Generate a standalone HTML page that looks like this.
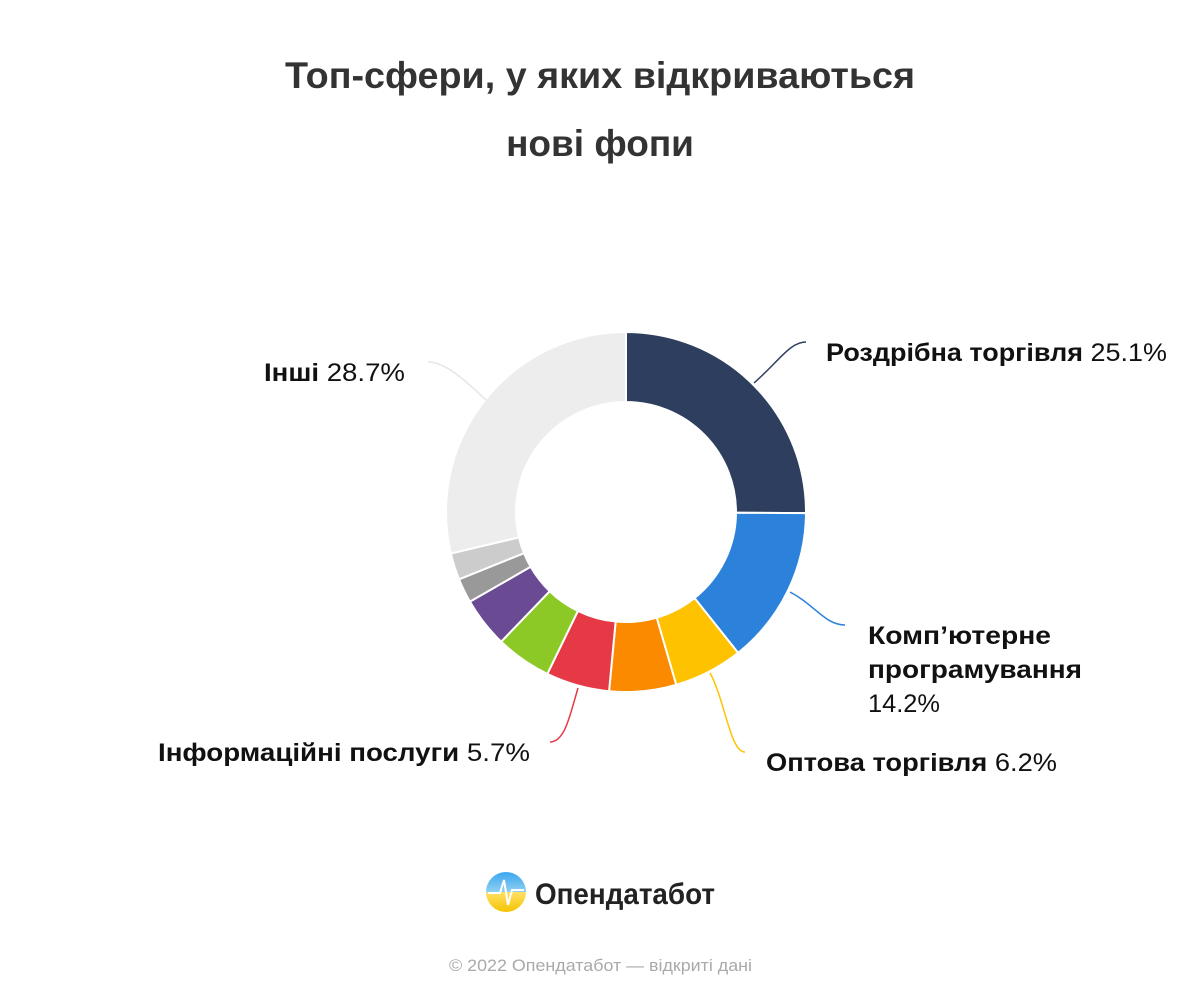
<!DOCTYPE html>
<html><head><meta charset="utf-8"><style>
body{margin:0;background:#fff;width:1200px;height:1000px;overflow:hidden;font-family:"Liberation Sans","DejaVu Sans",sans-serif}
</style></head><body>
<svg width="1200" height="1000" xmlns="http://www.w3.org/2000/svg" font-family="Liberation Sans, DejaVu Sans, sans-serif">
<text x="285" y="88" textLength="630" lengthAdjust="spacingAndGlyphs" font-size="37" font-weight="bold" fill="#333">Топ-сфери, у яких відкриваються</text>
<text x="600" y="156" text-anchor="middle" font-size="37" font-weight="bold" fill="#333">нові фопи</text>
<g id="donut"></g>
<g fill="none" stroke-width="1.5">
<path d="M754 383 C780 360,790 342,806 342" stroke="#2e3e5e"/>
<path d="M790 592 C815 605,825 625,845 625" stroke="#2c82da"/>
<path d="M710 673 C725 700,730 752,745 752" stroke="#ffc200"/>
<path d="M578 688 C570 715,565 742,550 742" stroke="#e63946"/>
<path d="M486 400 C465 380,445 362,428 362" stroke="#e6e6e6"/>
</g>
<g font-size="25" fill="#111" lengthAdjust="spacingAndGlyphs">
<text x="826" y="361" textLength="341" lengthAdjust="spacingAndGlyphs"><tspan font-weight="bold">Роздрібна торгівля</tspan> 25.1%</text>
<text x="868" y="644" textLength="183" lengthAdjust="spacingAndGlyphs" font-weight="bold">Комп’ютерне</text>
<text x="868" y="678" textLength="214" lengthAdjust="spacingAndGlyphs" font-weight="bold">програмування</text>
<text x="868" y="712" textLength="72" lengthAdjust="spacingAndGlyphs">14.2%</text>
<text x="766" y="771" textLength="291" lengthAdjust="spacingAndGlyphs"><tspan font-weight="bold">Оптова торгівля</tspan> 6.2%</text>
<text x="158" y="761" textLength="372" lengthAdjust="spacingAndGlyphs"><tspan font-weight="bold">Інформаційні послуги</tspan> 5.7%</text>
<text x="264" y="381" textLength="141" lengthAdjust="spacingAndGlyphs"><tspan font-weight="bold">Інші</tspan> 28.7%</text>
</g>
<defs><linearGradient id="lg" x1="0" y1="0" x2="0" y2="1"><stop offset="0" stop-color="#3aa7f0"/><stop offset="0.5" stop-color="#8fd0f0"/><stop offset="0.5" stop-color="#ffe066"/><stop offset="1" stop-color="#f5c400"/></linearGradient></defs>
<circle cx="506" cy="892" r="20" fill="url(#lg)"/>
<path d="M488 893 L500 893 L504 880 L508 905 L512 890 L524 890" stroke="#fff" stroke-width="2" fill="none"/>
<text x="535" y="904" textLength="180" lengthAdjust="spacingAndGlyphs" font-size="30" font-weight="bold" fill="#222">Опендатабот</text>
<text x="449" y="971" textLength="303" lengthAdjust="spacingAndGlyphs" font-size="17" fill="#aaa">© 2022 Опендатабот — відкриті дані</text>
</svg>
<script>
var d=[[25.1,"#2e3e5e"],[14.2,"#2c82da"],[6.2,"#ffc200"],[6.0,"#fb8a00"],[5.7,"#e63946"],[5.0,"#8dc926"],[4.5,"#694a93"],[2.2,"#999"],[2.4,"#ccc"],[28.7,"#ededed"]];
var cx=626,cy=512,R=180,r=110,a=0,s="";
function p(rad,ang){return [cx+rad*Math.sin(ang),cy-rad*Math.cos(ang)];}
d.forEach(function(x){var b=a+x[0]/100*2*Math.PI;var l=(b-a)>Math.PI?1:0;
var A=p(R,a),B=p(R,b),C=p(r,b),D=p(r,a);
s+='<path d="M'+A+' A'+R+' '+R+' 0 '+l+' 1 '+B+' L'+C+' A'+r+' '+r+' 0 '+l+' 0 '+D+'Z" fill="'+x[1]+'" stroke="#fff" stroke-width="2"/>';a=b;});
document.getElementById("donut").innerHTML=s;
</script>
</body></html>
